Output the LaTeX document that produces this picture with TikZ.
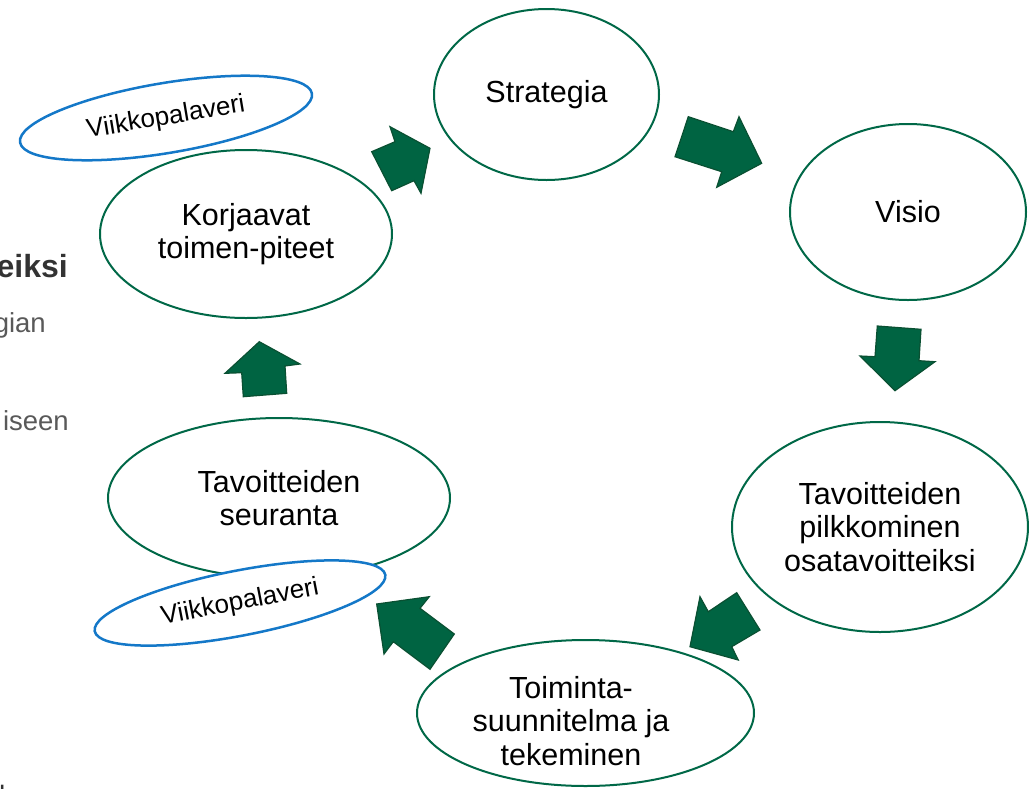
\documentclass[tikz,border=0pt]{standalone}
\usepackage{fontspec}
\setmainfont{Liberation Sans}
\usetikzlibrary{shapes.geometric}
\definecolor{ellgreen}{RGB}{0,104,71}
\definecolor{arrfill}{RGB}{0,100,66}
\definecolor{arrline}{RGB}{10,80,50}
\definecolor{meetblue}{RGB}{20,120,200}
\definecolor{sidegray}{RGB}{89,89,89}
\definecolor{sidedark}{RGB}{51,51,51}
\begin{document}
\begin{tikzpicture}[x=1pt,y=-1pt,
  stage/.style={ellipse, draw=ellgreen, line width=2pt, fill=white, inner sep=0pt, align=center,
    font=\fontsize{30.5}{33.5}\selectfont},
  stagetext/.style={inner sep=0pt, align=center, font=\fontsize{30.5}{33.5}\selectfont},
  meeting/.style={ellipse, draw=meetblue, line width=2.5pt, fill=white, inner sep=0pt,
    minimum width=296pt, font=\fontsize{26}{30}\selectfont},
  blockarrow/.style={fill=arrfill, draw=arrline, line width=1.2pt, line join=miter},
  sidetext/.style={anchor=base east, inner sep=0pt, text=sidegray, font=\fontsize{27.5}{32}\selectfont}]
\useasboundingbox (0,0) rectangle (1029,788);
\clip (0,0) rectangle (1029,788);

% partial side texts
\node[sidetext, text=sidedark, font=\fontsize{32}{36}\selectfont\bfseries] (s1) at (68,277) {eiksi};
\node[sidetext] (s2) at (46,332) {gian};
\node[sidetext] (s3) at (69,430) {iseen};
\node[anchor=base west, inner sep=0pt, text=sidedark, font=\fontsize{28}{32}\selectfont] (s4) at (-1,805) {he};

% stages
\node[stage, minimum width=225pt, minimum height=171pt] (strat) at (546.5,94.5) {Strategia};
\node[stage, minimum width=236pt, minimum height=176pt] (visio) at (908,212) {Visio};
\node[stage, minimum width=296pt, minimum height=210pt] (pilk) at (880,527)
  {Tavoitteiden\\pilkkominen\\osatavoitteiksi};
\node[stage, minimum width=337pt, minimum height=146pt] (toim) at (585.5,713) {};
\node[stagetext] (toimT) at (571,721) {Toiminta-\\suunnitelma ja\\tekeminen};
\node[stage, minimum width=342pt, minimum height=160pt] (seur) at (279,498)
  {Tavoitteiden\\seuranta};
\node[stage, minimum width=292pt, minimum height=168pt] (korj) at (246,234)
  {Korjaavat\\toimen-piteet};

% weekly meetings
\node[meeting, minimum height=70pt, rotate=9.5] (vk1) at (166,118) {Viikkopalaveri};
\node[meeting, minimum height=65pt, rotate=11] (vk2) at (240,603) {Viikkopalaveri};

% block arrows
\path[blockarrow] (371.7,151.7) -- (391.7,190.7) -- (414,180.7) -- (421,193.3)
  -- (430,148.3) -- (390,126.7) -- (395,141.7) -- cycle;
\path[blockarrow] (688.3,116.7) -- (733.3,131.7) -- (739,116.7) -- (761.7,163.3)
  -- (716.7,187.3) -- (721.7,171.7) -- (675,156.7) -- cycle;
\path[blockarrow] (877.3,326) -- (921,329.3) -- (919,360.7) -- (935,361.7)
  -- (895,390.7) -- (860,356) -- (875,356.7) -- cycle;
\path[blockarrow] (700,596.7) -- (708.3,611.7) -- (736.7,592.7) -- (760,630)
  -- (731.7,646.7) -- (738.3,660) -- (690,646.7) -- cycle;
\path[blockarrow] (376.7,604) -- (429.3,596.7) -- (420,608.3) -- (454.3,634)
  -- (430,669.3) -- (393.3,641.7) -- (384,654) -- cycle;
\path[blockarrow] (259.3,341.7) -- (300,364) -- (285,366) -- (286.7,393.3)
  -- (243.3,396.7) -- (241.7,372.7) -- (225,373.3) -- cycle;
\end{tikzpicture}
\end{document}
